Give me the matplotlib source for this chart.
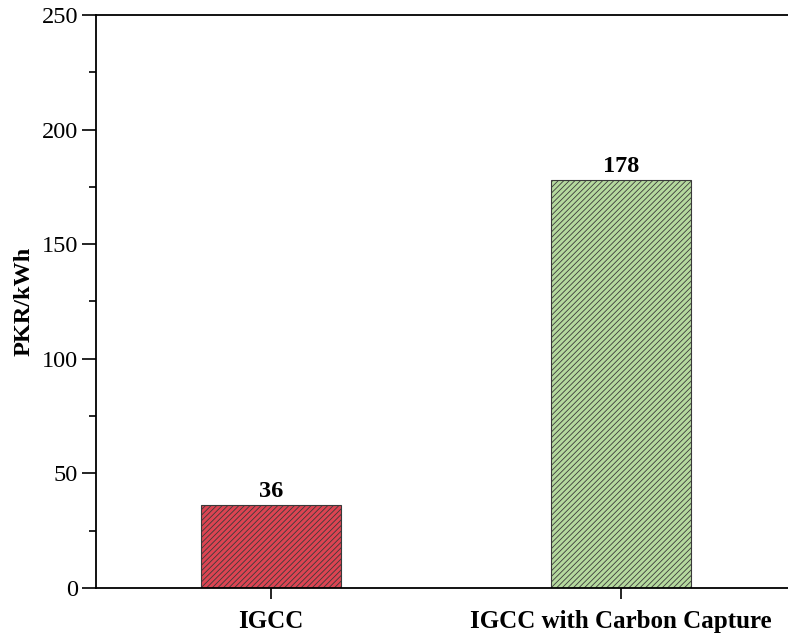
import matplotlib

matplotlib.use("Agg")
import matplotlib.pyplot as plt
import numpy as np
from matplotlib.ticker import MultipleLocator

categories = ["IGCC", "IGCC with Carbon Capture"]
values = [36, 178]
colors = ["#dc4452", "#b5d99e"]

plt.rcParams["font.family"] = ["Liberation Serif", "DejaVu Serif"]
plt.rcParams["hatch.linewidth"] = 0.6
plt.rcParams["hatch.color"] = "#333333"

fig = plt.figure(figsize=(7.88, 6.35), dpi=100)
ax = fig.add_axes([96 / 788, 47 / 635, 700 / 788, 573 / 635])

x = np.arange(len(categories))
for xi, v, c in zip(x, values, colors):
    ax.bar(xi, v, width=0.4, color=c, edgecolor="#3a3a3a", hatch="//////", linewidth=0.8)
    ax.text(xi, v + 1.5, f"{v}", ha="center", va="bottom", fontsize=17.5, fontweight="bold")

ax.set_xlim(-0.5, 1.5)
ax.set_ylim(0, 250)
ax.set_xticks(x)
ax.set_xticklabels(categories, fontsize=18, fontweight="bold")
ax.yaxis.set_major_locator(MultipleLocator(50))
ax.yaxis.set_minor_locator(MultipleLocator(25))
ax.tick_params(axis="y", which="major", direction="out", length=10, width=1.2, labelsize=17.5, pad=3)
ax.tick_params(axis="y", which="minor", direction="out", length=5, width=1.2)
ax.tick_params(axis="x", direction="out", length=8, width=1.2, pad=8)
for s in ax.spines.values():
    s.set_linewidth(1.3)
ax.set_ylabel("PKR/kWh", fontsize=17.5, fontweight="bold", labelpad=5)

fig.savefig("out.png", dpi=100)
